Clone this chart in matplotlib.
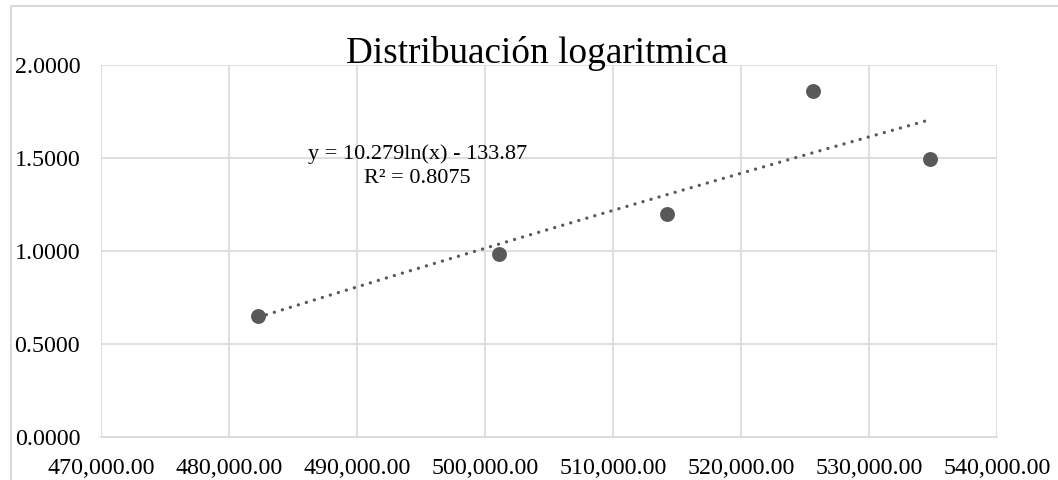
import numpy as np
import matplotlib.pyplot as plt
from matplotlib.patches import Rectangle
from matplotlib.ticker import FuncFormatter

# Data points
x_vals = [482294, 501088, 514244, 525654, 534761]
y_vals = [0.6505, 0.9840, 1.1990, 1.8586, 1.4960]

# Logarithmic trendline coefficients: y = a ln(x) + b
coef_a = 10.279
coef_b = -133.87
r_squared = 0.8075

x_ticks = np.arange(470000, 540001, 10000)
y_ticks = [0.0, 0.5, 1.0, 1.5, 2.0]

plt.rcParams['font.family'] = ['Liberation Serif', 'DejaVu Serif']

W, H = 1058, 480
fig = plt.figure(figsize=(W / 100, H / 100), dpi=100)

# chart frame
fig.patches.append(Rectangle((11 / W, -0.1), 1.2, (H - 6) / H + 0.1, transform=fig.transFigure,
                             fill=False, edgecolor='#d9d9d9', linewidth=1.5))

ax = fig.add_axes([101 / W, (H - 437) / H, (997 - 101) / W, (437 - 65) / H])
grid_c = '#d9d9d9'

ax.scatter(x_vals, y_vals, s=115, color='#595959', zorder=3, linewidths=0)

xt = np.linspace(min(x_vals), max(x_vals), 200)
yt = coef_a * np.log(xt) + coef_b
ax.plot(xt, yt, color='#595959', linewidth=2.4, linestyle=(0, (0.01, 2.5)),
        dash_capstyle='round', zorder=2)

ax.set_xlim(470000, 540000)
ax.set_ylim(0, 2.0)
ax.set_xticks(x_ticks)
ax.set_yticks(y_ticks)
ax.xaxis.set_major_formatter(FuncFormatter(lambda v, p: f"{v:,.2f}"))
ax.yaxis.set_major_formatter(FuncFormatter(lambda v, p: f"{v:.4f}"))
ax.grid(True, color=grid_c, linewidth=1.2)
ax.set_axisbelow(True)
for side in ['top', 'right', 'left']:
    ax.spines[side].set_visible(False)
ax.spines['bottom'].set_color(grid_c)
ax.spines['bottom'].set_linewidth(1.2)
ax.tick_params(length=0, labelsize=17.3, colors='black')
ax.tick_params(axis='x', pad=15)
ax.tick_params(axis='y', pad=15)

ax.text(0.4866, 1.005, "Distribuación logaritmica", transform=ax.transAxes,
        ha='center', va='baseline', fontsize=26.8)

eq = f"y = {coef_a}ln(x) - {abs(coef_b)}\nR² = {r_squared}"
ax.text(494750, 1.455, eq, ha='center', va='center', fontsize=16, linespacing=1.35)

fig.savefig("out.png", dpi=100)
